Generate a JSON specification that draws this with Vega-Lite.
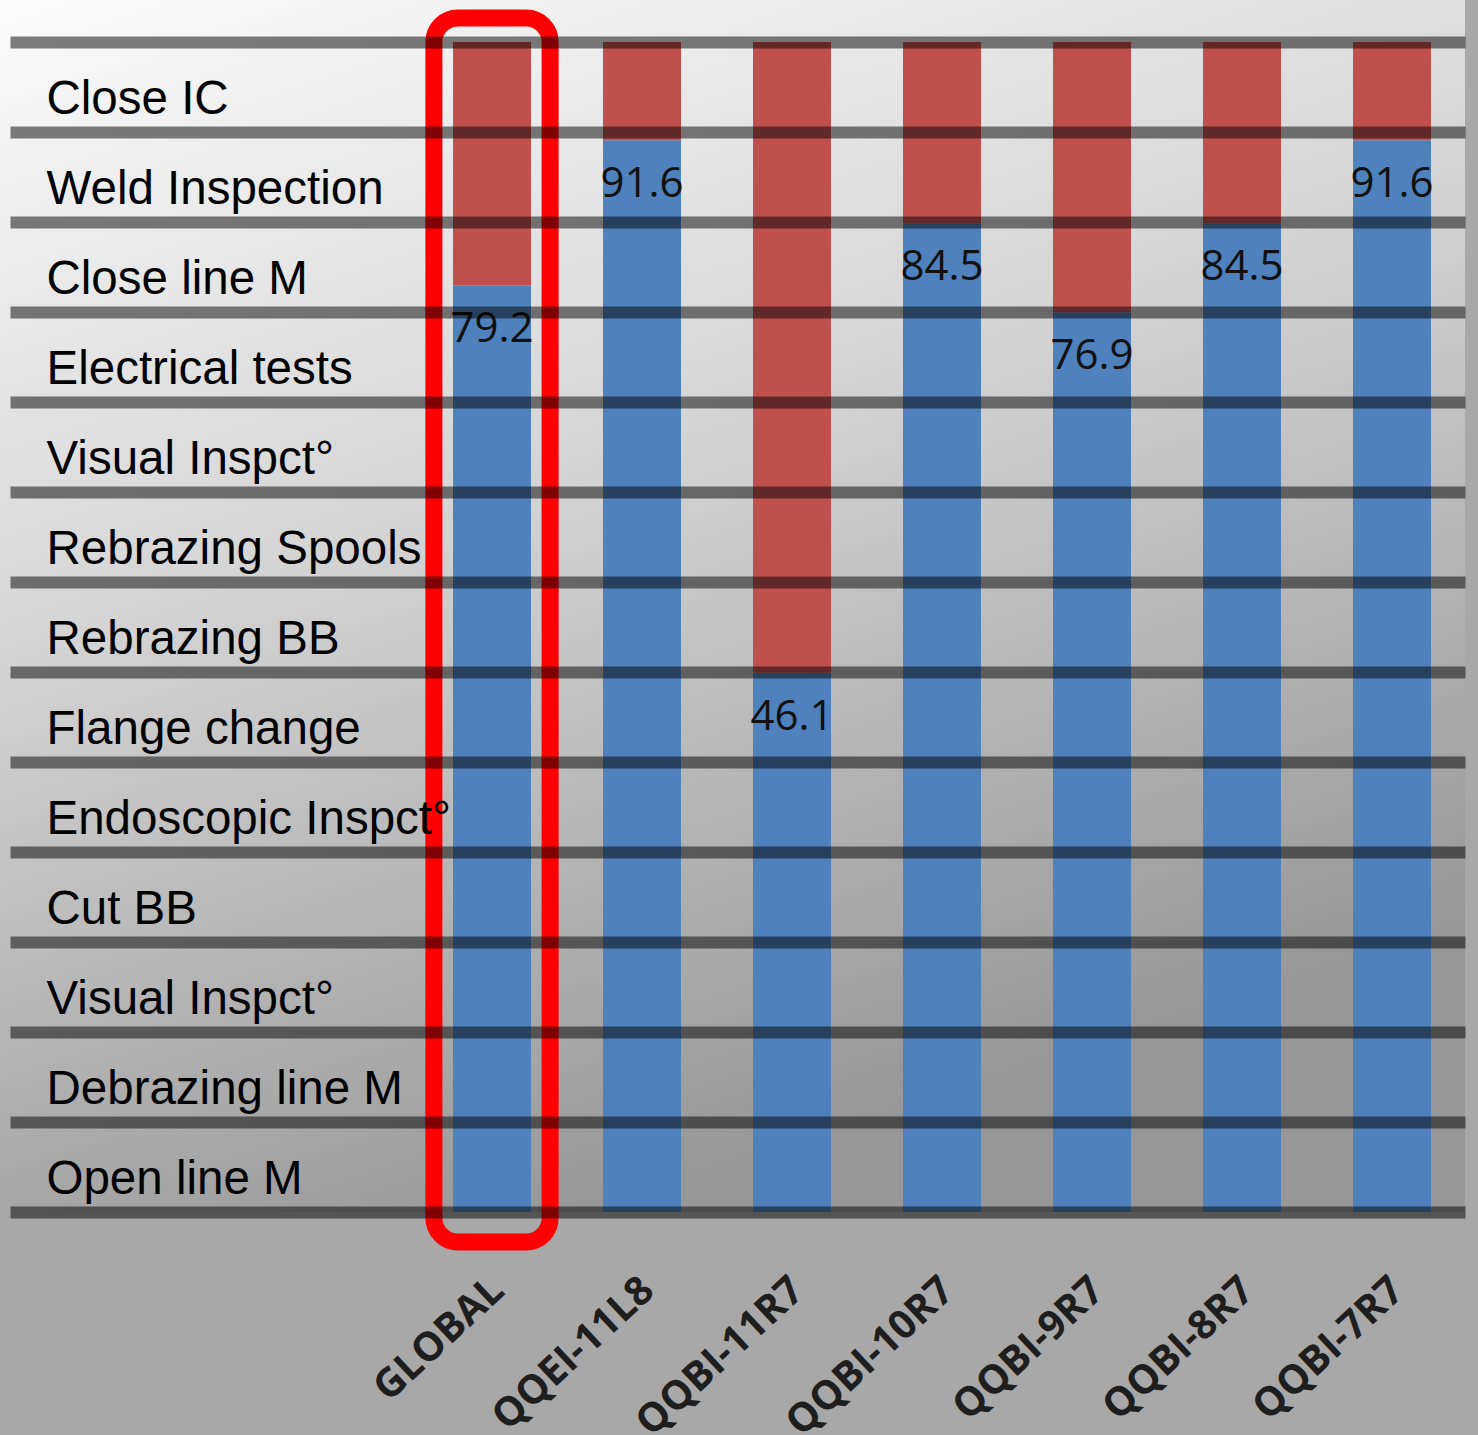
{
  "$schema": "https://vega.github.io/schema/vega-lite/v6.json",
  "width": 1455,
  "height": 1170,
  "autosize": "none",
  "padding": {"left": 10, "top": 42, "right": 13, "bottom": 223},
  "background": "#a8a8a8",
  "config": {"view": {"stroke": null}},
  "datasets": {
    "bars": [
      {"product": "GLOBAL", "pct": 79.2},
      {"product": "QQEI-11L8", "pct": 91.6},
      {"product": "QQBI-11R7", "pct": 46.1},
      {"product": "QQBI-10R7", "pct": 84.5},
      {"product": "QQBI-9R7", "pct": 76.9},
      {"product": "QQBI-8R7", "pct": 84.5},
      {"product": "QQBI-7R7", "pct": 91.6}
    ],
    "steps": [
      {"step": "Close IC"},
      {"step": "Weld Inspection"},
      {"step": "Close line M"},
      {"step": "Electrical tests"},
      {"step": "Visual Inspct°"},
      {"step": "Rebrazing Spools"},
      {"step": "Rebrazing BB"},
      {"step": "Flange change"},
      {"step": "Endoscopic Inspct°"},
      {"step": "Cut BB"},
      {"step": "Visual Inspct° "},
      {"step": "Debrazing line M"},
      {"step": "Open line M"}
    ]
  },
  "layer": [
    {
      "data": {"values": [{}]},
      "mark": {
        "type": "rect",
        "x": 0,
        "x2": "width",
        "y": 0,
        "y2": "height",
        "xOffset": -10,
        "x2Offset": 13,
        "yOffset": -42,
        "y2Offset": 223,
        "color": {
          "gradient": "linear",
          "x1": 0, "y1": 0, "x2": 0.4, "y2": 1,
          "stops": [
            {"offset": 0, "color": "#fbfbfb"},
            {"offset": 0.45, "color": "#d6d6d6"},
            {"offset": 1, "color": "#979797"}
          ]
        }
      },
      "encoding": {}
    },
    {
      "data": {"name": "steps"},
      "mark": {"type": "rect", "opacity": 0},
      "encoding": {
        "y": {
          "field": "step",
          "type": "nominal",
          "sort": null,
          "scale": {"paddingInner": 0, "paddingOuter": 0},
          "axis": {
            "orient": "left",
            "title": null,
            "domain": false,
            "ticks": false,
            "grid": true,
            "tickBand": "extent",
            "gridColor": "#000000",
            "gridOpacity": 0.5,
            "gridWidth": 12,
            "labelExpr": "trim(datum.label)",
            "labelFont": "Liberation Sans",
            "labelFontSize": 47.5,
            "labelColor": "#000000",
            "labelAlign": "left",
            "labelBaseline": "alphabetic",
            "labelPadding": -36,
            "labelOffset": 26,
            "labelLimit": 0,
            "zindex": 1
          }
        }
      }
    },
    {
      "data": {"name": "bars"},
      "encoding": {
        "x": {
          "field": "product",
          "type": "nominal",
          "sort": null,
          "scale": {"range": [407, 1457], "paddingInner": 0.48, "paddingOuter": 0.24},
          "axis": {
            "title": null,
            "domain": false,
            "ticks": false,
            "labelAngle": -43,
            "labelAlign": "right",
            "labelBaseline": "middle",
            "labelPadding": 72,
            "labelOffset": 6,
            "labelFont": "Open Sans",
            "labelFontWeight": "bold",
            "labelFontSize": 40,
            "labelColor": "#1e1e1e",
            "labelLimit": 0
          }
        }
      },
      "layer": [
        {
          "mark": {"type": "bar", "color": "#4f81bd"},
          "encoding": {
            "y": {"field": "pct", "type": "quantitative", "scale": {"domain": [0, 100]}, "axis": null}
          }
        },
        {
          "mark": {"type": "bar", "color": "#c0504d"},
          "encoding": {
            "y": {"field": "pct", "type": "quantitative"},
            "y2": {"datum": 100}
          }
        },
        {
          "mark": {
            "type": "text",
            "align": "center",
            "baseline": "alphabetic",
            "dy": 57,
            "font": "Open Sans",
            "fontSize": 42,
            "color": "#111111"
          },
          "encoding": {
            "y": {"field": "pct", "type": "quantitative"},
            "text": {"field": "pct", "type": "quantitative", "format": ".1f"}
          }
        },
        {
          "transform": [{"filter": "datum.product == 'GLOBAL'"}],
          "mark": {
            "type": "rect",
            "filled": false,
            "stroke": "#ff0000",
            "strokeWidth": 17,
            "cornerRadius": 24,
            "width": {"band": 1.49},
            "yOffset": -24,
            "y2Offset": 30
          },
          "encoding": {
            "y": {"datum": 100},
            "y2": {"datum": 0}
          }
        }
      ]
    }
  ],
  "resolve": {"scale": {"y": "independent"}}
}
